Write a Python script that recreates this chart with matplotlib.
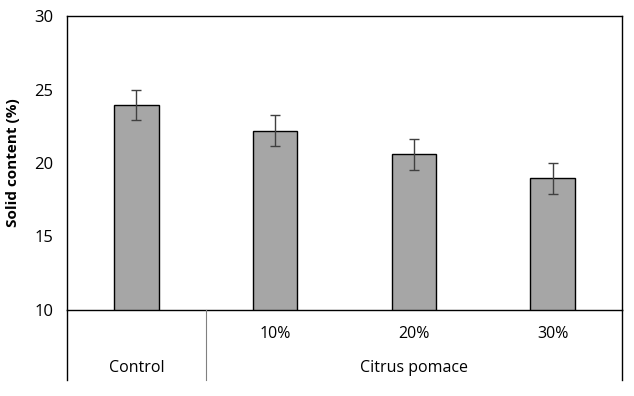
import matplotlib
matplotlib.use("Agg")
import matplotlib.pyplot as plt
from matplotlib.lines import Line2D

categories = ["Control", "10%", "20%", "30%"]
values = [23.95, 22.2, 20.6, 18.95]
errors = [1.05, 1.05, 1.05, 1.05]
groups = ["Control", "Citrus pomace"]
yticks = [10, 15, 20, 25, 30]

plt.rcParams['font.family'] = ['Open Sans', 'DejaVu Sans']

W, H = 634, 396
fig = plt.figure(figsize=(W / 100, H / 100), dpi=100)
L, R, T, B = 67, 622, 16, 310
ax = fig.add_axes([L / W, 1 - B / H, (R - L) / W, (B - T) / H])

x = list(range(len(categories)))
ax.bar(x, values, width=0.32, color="#a6a6a6", edgecolor="black", linewidth=1.0, zorder=2)
ax.errorbar(x, values, yerr=errors, fmt="none", ecolor="#404040", elinewidth=1.0,
            capsize=3.5, capthick=1.0, zorder=3)

ax.set_xlim(-0.5, len(categories) - 0.5)
ax.set_ylim(10, 30)
ax.set_yticks(yticks)
ax.set_yticklabels([str(v) for v in yticks], fontsize=12)
ax.tick_params(axis="y", length=0, pad=10)
ax.set_xticks([])
for s in ax.spines.values():
    s.set_linewidth(1.0)
    s.set_color("black")

ax.set_ylabel("Solid content (%)", fontsize=11, fontweight="bold", labelpad=10)

def fy(py):
    return 1 - py / H

def fx(px):
    return px / W

slot = (R - L) / len(categories)
for i, c in enumerate(categories[1:], start=1):
    fig.text(fx(L + slot * (i + 0.5)), fy(334), c, ha="center", va="center", fontsize=11.5)
fig.text(fx(L + slot * 0.5), fy(368), groups[0], ha="center", va="center", fontsize=11.5)
fig.text(fx((L + slot + R) / 2), fy(368), groups[1], ha="center", va="center", fontsize=11.5)

fig.add_artist(Line2D([fx(L), fx(L)], [fy(B), fy(380)], color="black", lw=1.0))
fig.add_artist(Line2D([fx(R), fx(R)], [fy(B), fy(380)], color="black", lw=1.0))
fig.add_artist(Line2D([fx(L + slot), fx(L + slot)], [fy(B), fy(380)], color="#808080", lw=0.8))

fig.savefig("out.png", dpi=100)
